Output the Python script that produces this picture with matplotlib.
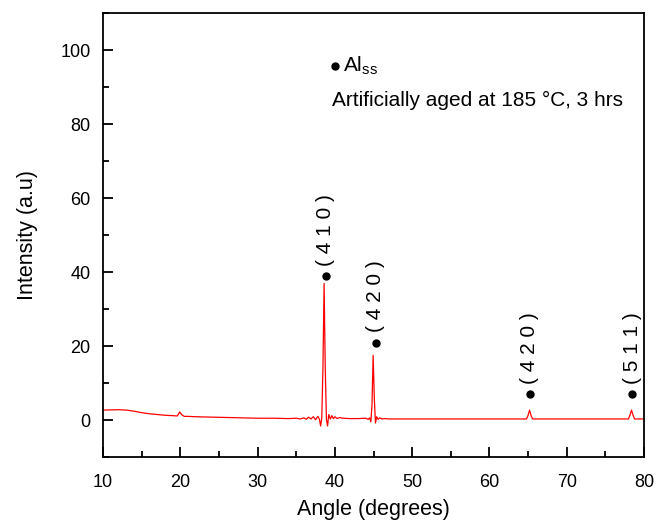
import matplotlib
matplotlib.use("Agg")
import matplotlib.pyplot as plt
from matplotlib.ticker import MultipleLocator

plt.rcParams['font.family'] = ['Liberation Sans', 'DejaVu Sans']

# XRD pattern (angle in degrees, intensity in a.u.)
angle = [10, 12, 13, 14, 15, 16, 17, 18, 19, 19.6, 19.9, 20.2, 20.5, 21, 22, 24, 26,
         28, 30, 32, 34, 35, 35.5, 36, 36.3, 36.6, 36.9, 37.2, 37.5, 37.8, 38.0,
         38.15, 38.3, 38.45, 38.6, 38.75, 38.9, 39.05, 39.2, 39.4, 39.6, 39.8, 40,
         40.3, 40.6, 41, 42, 43, 44, 44.3, 44.5, 44.65, 44.8, 44.95, 45.1, 45.25,
         45.4, 45.6, 45.8, 46.1, 46.5, 47, 48, 50, 55, 60, 64.8, 65.0, 65.2, 65.4,
         65.6, 66, 70, 75, 78.0, 78.2, 78.4, 78.6, 78.8, 79.2, 80]
intensity = [2.7, 2.8, 2.7, 2.4, 2.0, 1.7, 1.5, 1.3, 1.2, 1.1, 2.2, 1.4, 1.0, 1.0, 0.9,
             0.8, 0.7, 0.6, 0.5, 0.5, 0.4, 0.5, 0.3, 0.6, 0.2, 0.8, 0.3, 0.9, 0.1,
             1.0, 0.2, -1.6, 0.5, 14.0, 36.9, 14.0, 0.2, -1.6, 1.5, 0.3, 1.2, 0.4,
             0.9, 0.4, 0.7, 0.5, 0.4, 0.4, 0.5, 0.2, 0.6, -0.5, 4.0, 17.5, 6.0,
             -0.8, 0.9, 0.2, 0.6, 0.3, 0.4, 0.3, 0.3, 0.3, 0.3, 0.3, 0.3, 1.2, 2.7,
             1.2, 0.3, 0.3, 0.3, 0.3, 0.3, 1.3, 2.7, 1.3, 0.3, 0.3, 0.3]

# peak markers and their (hkl) labels
peak_x = [38.8, 45.3, 65.2, 78.5]
peak_y = [38.8, 20.9, 7.0, 7.0]
peak_labels = ['( 4 1 0 )', '( 4 2 0 )', '( 4 2 0 )', '( 5 1 1 )']

fig = plt.figure(figsize=(6.7, 5.2), dpi=100)
ax = fig.add_axes([0.154, 0.121, 0.807, 0.854])

ax.plot(angle, intensity, color='red', lw=0.9)
ax.plot(peak_x, peak_y, 'o', color='black', ms=5)
for px, py, lab in zip(peak_x, peak_y, peak_labels):
    ax.text(px, py + 2.8, lab, rotation=90, ha='center', va='bottom', fontsize=15)

ax.plot([40.0], [95.7], 'o', color='black', ms=5)
ax.text(41.0, 95.7, 'Al$_{\\mathregular{ss}}$', ha='left', va='center', fontsize=15)
ax.text(39.6, 86.4, 'Artificially aged at 185 \u00b0C, 3 hrs', ha='left', va='center',
        fontsize=15)

ax.set_xlim(10, 80)
ax.set_ylim(-10, 110)
ax.xaxis.set_major_locator(MultipleLocator(10))
ax.xaxis.set_minor_locator(MultipleLocator(5))
ax.yaxis.set_major_locator(MultipleLocator(20))
ax.yaxis.set_minor_locator(MultipleLocator(10))
ax.set_yticks([0, 20, 40, 60, 80, 100])
ax.tick_params(which='both', direction='in', top=False, right=False, width=1.3,
               labelsize=13)
ax.tick_params(which='major', length=7)
ax.tick_params(axis='x', which='major', pad=12)
ax.tick_params(axis='y', which='major', pad=9)
ax.tick_params(which='minor', length=4)
for s in ax.spines.values():
    s.set_linewidth(1.3)

ax.set_xlabel('Angle (degrees)', fontsize=15.5, labelpad=6)
ax.set_ylabel('Intensity (a.u)', fontsize=15.5, labelpad=16)

fig.savefig('out.png', dpi=100)
